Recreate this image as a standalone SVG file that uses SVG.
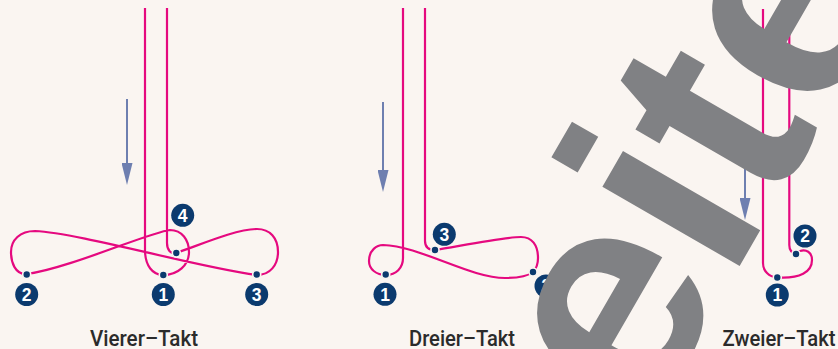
<svg xmlns="http://www.w3.org/2000/svg" width="838" height="349" viewBox="0 0 838 349">
<defs>
<style>
.bg{fill:#FAF5F1}
.ln{fill:none;stroke:#E5097F;stroke-width:2.2;stroke-linecap:butt;stroke-linejoin:round}
.ar{stroke:#6E7FB0;stroke-width:2}
.dot{fill:#0B3A6E;stroke:#FAF5F1;stroke-width:1.6}
.bd{fill:#0B3A6E}
.num{fill:#FFFFFF;font-family:"Liberation Sans",Arial,sans-serif;font-weight:bold;font-size:17.5px;text-anchor:middle}
.lbl{fill:#2B2B2B;font-family:Roboto,"Liberation Sans",sans-serif;font-weight:500;font-size:22px;text-anchor:middle}
.wm{fill:#808184;font-family:"Liberation Sans",Arial,sans-serif;font-weight:bold;font-size:300px}
</style>
<marker id="ah" markerUnits="userSpaceOnUse" markerWidth="22" markerHeight="11" viewBox="0 0 22 11" refX="0" refY="5.5" orient="auto">
<path d="M0,0 L22,5.5 L0,11 Z" fill="#6E7FB0"/>
</marker>
</defs>
<rect class="bg" x="0" y="0" width="838" height="349"/>

<g id="connectors">
<path id="path-vierer" class="ln" d="M145,8 V250 C145,266 153,275 163,275 C178,275 189,265 189,252 C189,240 182,230 170,230 C150,232 70,268 27,274 C15,275 11,262 11,252 C11,240 20,231 35,231 C80,233 200,268 257,275 C270,275 278,265 278,252 C278,238 270,229 257,229 C235,229 195,247 176,253 C171,254.5 167,250 167,243 V8"/>
<path id="path-dreier" class="ln" d="M403,8 V258 C403,268 396,275 386,275 C376,275 369,269 369,261 C369,250 377,245 383,245 C420,246 470,278 505,278 C518,278 528,276 533,272 C537,268 538,263 538,258 C538,245 532,237 521,237 C505,237 460,246 435,250 C429,250 425,247 425,241 V8"/>
<path id="path-zweier" class="ln" d="M763,9 V263 C763,271 769,277 777,277.5 C800,279 812,272 812,260 C812,252 806,249 800,251 C797,252 796,253 796,254 C792,253 789.3,250 789.3,245 V9"/>
<line class="ar" x1="127" y1="99" x2="127" y2="163" marker-end="url(#ah)"/>
<line class="ar" x1="383" y1="102" x2="383" y2="170" marker-end="url(#ah)"/>
<line class="ar" x1="745" y1="140" x2="745" y2="198" marker-end="url(#ah)"/>
</g>

<g id="vierer-1"><circle class="dot" cx="163.3" cy="275" r="4"/><circle class="bd" cx="163.3" cy="294.5" r="11.5"/><text class="num" x="163.3" y="300.8">1</text></g>
<g id="vierer-2"><circle class="dot" cx="26.7" cy="274.5" r="4"/><circle class="bd" cx="26.7" cy="294.5" r="11.5"/><text class="num" x="26.7" y="300.8">2</text></g>
<g id="vierer-3"><circle class="dot" cx="256.7" cy="274.5" r="4"/><circle class="bd" cx="256.7" cy="294.5" r="11.5"/><text class="num" x="256.7" y="300.8">3</text></g>
<g id="vierer-4"><circle class="dot" cx="176.3" cy="253" r="4"/><circle class="bd" cx="182.7" cy="215.3" r="11.5"/><text class="num" x="182.7" y="221.6">4</text></g>
<g id="vierer-label"><text class="lbl" x="144" y="346" textLength="108" lengthAdjust="spacingAndGlyphs">Vierer–Takt</text></g>

<g id="dreier-1"><circle class="dot" cx="385.7" cy="274.5" r="4"/><circle class="bd" cx="385" cy="294.3" r="11.5"/><text class="num" x="385" y="300.6">1</text></g>
<g id="dreier-2"><circle class="dot" cx="533" cy="272" r="4"/><circle class="bd" cx="546" cy="286" r="11.5"/><text class="num" x="546" y="292.3">2</text></g>
<g id="dreier-3"><circle class="dot" cx="435" cy="250" r="4"/><circle class="bd" cx="444.3" cy="234.3" r="11.5"/><text class="num" x="444.3" y="240.6">3</text></g>
<g id="dreier-label"><text class="lbl" x="462" y="346" textLength="106" lengthAdjust="spacingAndGlyphs">Dreier–Takt</text></g>

<g id="zweier-1"><circle class="dot" cx="777.3" cy="277.5" r="4"/><circle class="bd" cx="777.3" cy="295" r="11.5"/><text class="num" x="777.3" y="301.3">1</text></g>
<g id="zweier-2"><circle class="dot" cx="796" cy="254" r="4"/><circle class="bd" cx="805" cy="236" r="11.5"/><text class="num" x="805" y="242.3">2</text></g>
<g id="zweier-label"><text class="lbl" x="779" y="346" textLength="113" lengthAdjust="spacingAndGlyphs">Zweier–Takt</text></g>

<text class="wm" transform="translate(645.75,428.6) rotate(-60)" x="0" y="0">eite</text>
</svg>
